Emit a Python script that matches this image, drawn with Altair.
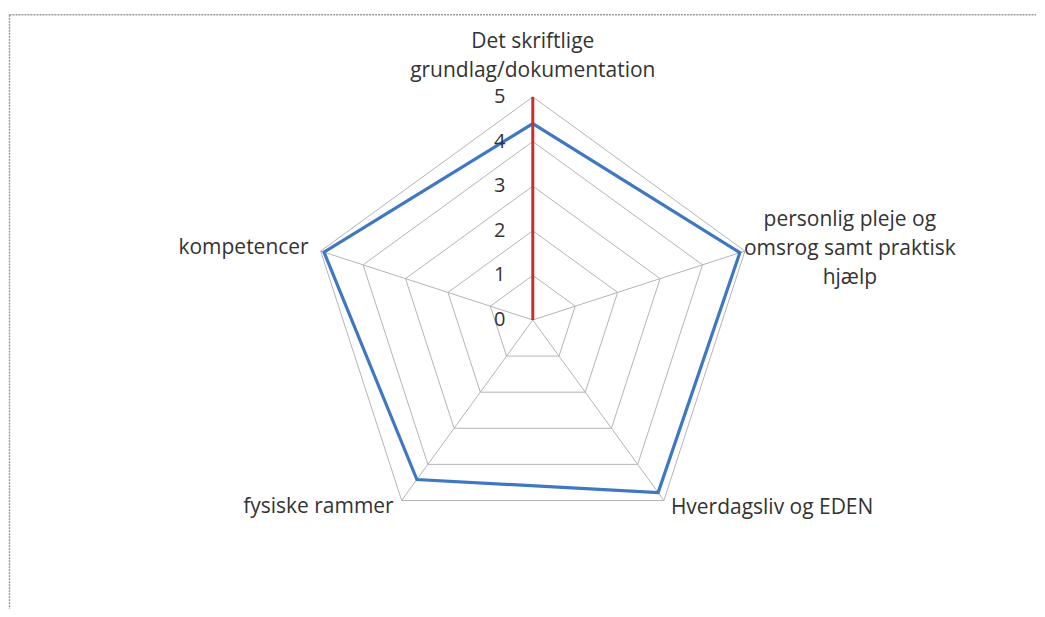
import math
import altair as alt
import pandas as pd

# ---- data ----
categories = [
    "Det skriftlige grundlag/dokumentation",
    "personlig pleje og omsrog samt praktisk hjælp",
    "Hverdagsliv og EDEN",
    "fysiske rammer",
    "kompetencer",
]
values = [4.4, 4.88, 4.78, 4.42, 4.92]
tick_levels = [0, 1, 2, 3, 4, 5]
tick_labels = ["0", "1", "2", "3", "4", "5"]
axis_max = 5

label_lines = [
    "Det skriftlige\ngrundlag/dokumentation",
    "personlig pleje og\nomsrog samt praktisk\nhjælp",
    "Hverdagsliv og EDEN",
    "fysiske rammer",
    "kompetencer",
]

n = len(categories)
TAU = 2 * math.pi

# series table (closed polygon)
series_df = pd.DataFrame({
    "idx": list(range(n)) + [n],
    "category": categories + [categories[0]],
    "value": values + [values[0]],
})

# grid rings
ring_rows = []
for lv in tick_levels[1:]:
    for k in range(n + 1):
        ring_rows.append({"level": lv, "idx": k})
ring_df = pd.DataFrame(ring_rows)

spoke_df = pd.DataFrame({"idx": list(range(n)), "r": [axis_max] * n})
tick_df = pd.DataFrame({"level": tick_levels, "label": tick_labels})
label_df = pd.DataFrame({"idx": list(range(n)), "text": label_lines, "r": [axis_max] * n})
border_df = pd.DataFrame({"a": [0]})

# ---- scales (fixed so the centre sits where it should) ----
W, H = 1029, 601
px = 44.66
cx, cy = 525.3, 312.0
xs = alt.Scale(domain=[-cx / px, (W - cx) / px], nice=False, zero=False)
ys = alt.Scale(domain=[-(H - cy) / px, cy / px], nice=False, zero=False)
noax = None

ang = f"datum.idx * {TAU} / {n}"


def X(field="x"):
    return alt.X(f"{field}:Q", scale=xs, axis=noax)


def Y(field="y"):
    return alt.Y(f"{field}:Q", scale=ys, axis=noax)


grid_color = "#b4b4b4"

rings = alt.Chart(ring_df).transform_calculate(
    x=f"datum.level * sin({ang})", y=f"datum.level * cos({ang})"
).mark_line(color=grid_color, strokeWidth=1).encode(
    x=X(), y=Y(), detail="level:N", order="idx:Q"
)

spokes = alt.Chart(spoke_df).transform_calculate(
    x=f"datum.r * sin({ang})", y=f"datum.r * cos({ang})", x0="0", y0="0"
).mark_rule(color=grid_color, strokeWidth=1).encode(
    x=X("x0"), y=Y("y0"), x2="x:Q", y2="y:Q"
)

value_axis = alt.Chart(pd.DataFrame({"r": [axis_max]})).transform_calculate(
    x0="0", y0="0", x="0", y="datum.r"
).mark_rule(color="#c8302c", strokeWidth=3).encode(
    x=X("x0"), y=Y("y0"), x2="x:Q", y2="y:Q"
)

series = alt.Chart(series_df).transform_calculate(
    x=f"datum.value * sin({ang})", y=f"datum.value * cos({ang})"
).mark_line(color="#3f77c2", strokeWidth=3.2, strokeJoin="miter").encode(
    x=X(), y=Y(), order="idx:Q"
)

FONT = "Open Sans"
FS = 21
TXT = "#333333"

ticks = alt.Chart(tick_df).transform_calculate(x0="0").mark_text(
    font=FONT, fontSize=20, color=TXT, align="center", baseline="middle", dx=-33
).encode(x=X("x0"), y=Y("level"), text="label:N")

label_specs = [
    dict(align="center", dx=0, dy=-55),
    dict(align="center", dx=105, dy=-31),
    dict(align="left", dx=7, dy=8),
    dict(align="right", dx=-8, dy=7),
    dict(align="right", dx=-12, dy=-3),
]
label_layers = []
for i, spec in enumerate(label_specs):
    label_layers.append(
        alt.Chart(label_df).transform_filter(f"datum.idx == {i}").transform_calculate(
            x=f"datum.r * sin({ang})", y=f"datum.r * cos({ang})"
        ).mark_text(
            font=FONT, fontSize=FS, color=TXT, baseline="middle", lineBreak="\n",
            lineHeight=29, **spec
        ).encode(x=X(), y=Y(), text="text:N")
    )

border_color = "#9a9a9a"
border_top = alt.Chart(border_df).mark_rule(
    color=border_color, strokeWidth=1.5, strokeDash=[2, 1]
).encode(x=alt.value(1.5), x2=alt.value(W), y=alt.value(6.5))
border_left = alt.Chart(border_df).mark_rule(
    color=border_color, strokeWidth=1.5, strokeDash=[2, 1]
).encode(x=alt.value(1.5), y=alt.value(6.5), y2=alt.value(H))

chart = alt.layer(
    border_top, border_left, rings, spokes, series, value_axis, ticks, *label_layers
).properties(width=W, height=H, padding=0).configure_view(stroke=None)

chart.save("out.html", embed_options={"renderer": "svg", "actions": False})
